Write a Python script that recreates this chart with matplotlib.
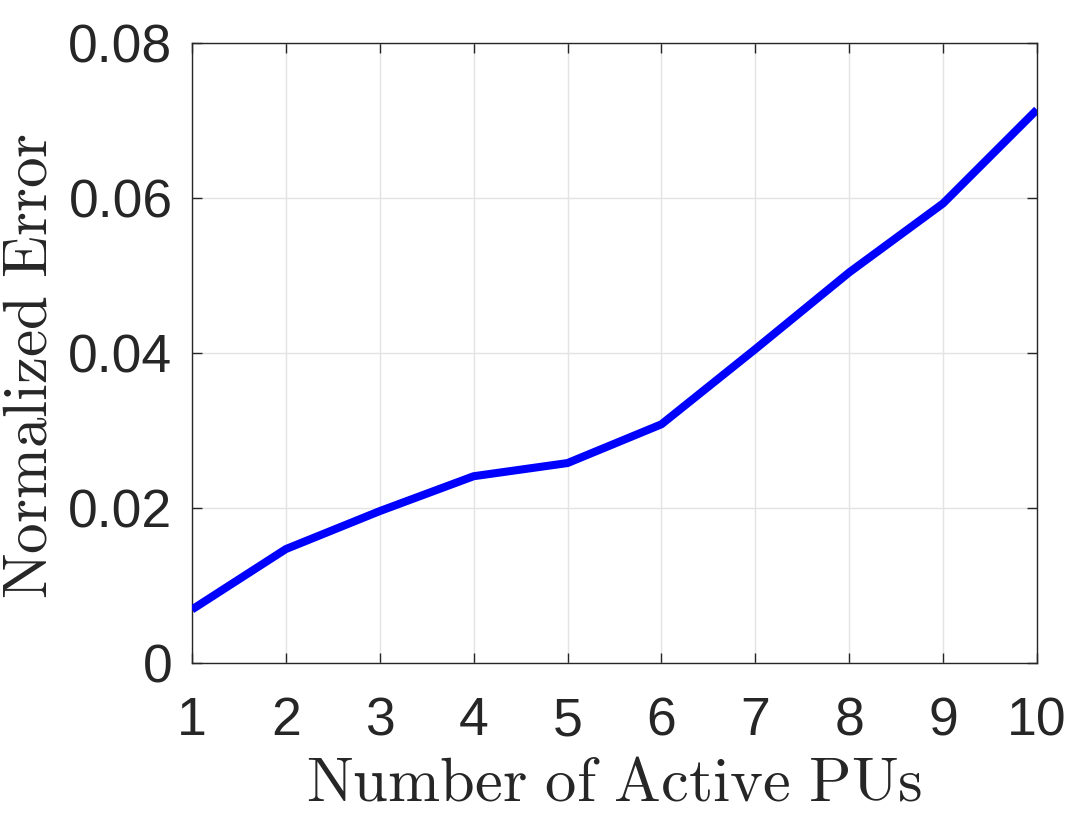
import matplotlib
matplotlib.use("Agg")
import matplotlib.pyplot as plt

NUM_PUS = [1, 2, 3, 4, 5, 6, 7, 8, 9, 10]
NORM_ERROR = [0.0069, 0.0147, 0.0196, 0.0241, 0.0258, 0.0308, 0.0405, 0.0504, 0.0593, 0.0714]
Y_TICKS = [0, 0.02, 0.04, 0.06, 0.08]
Y_TICK_LABELS = ["0", "0.02", "0.04", "0.06", "0.08"]

plt.rcParams["mathtext.fontset"] = "cm"

fig = plt.figure(figsize=(10.92, 8.13), dpi=100)
ax = fig.add_axes([0.1758, 0.1845, 0.7738, 0.7626])

ax.plot(NUM_PUS, NORM_ERROR, color="#0000ff", linewidth=5.8, solid_capstyle="butt", zorder=3)

ax.set_xlim(1, 10)
ax.set_ylim(0, 0.08)
ax.set_xticks(NUM_PUS)
ax.set_yticks(Y_TICKS)
ax.set_yticklabels(Y_TICK_LABELS)

ax.grid(True, color="#e3e3e3", linewidth=1.0)
ax.set_axisbelow(True)

for s in ax.spines.values():
    s.set_color("#262626")
    s.set_linewidth(1.0)

ax.tick_params(direction="in", length=7, width=1.0, color="#262626",
               top=True, right=True, labelsize=38.5, labelcolor="#262626")
ax.tick_params(axis="x", pad=24)
ax.tick_params(axis="y", pad=14)
for lab in ax.get_xticklabels() + ax.get_yticklabels():
    lab.set_family("Liberation Sans")

ax.set_xlabel(r"$\mathrm{Number\ of\ Active\ PUs}$", fontsize=45, color="#262626", labelpad=5)
ax.set_ylabel(r"$\mathrm{Normalized\ Error}$", fontsize=44, color="#262626", labelpad=6)
ax.yaxis.label.set_y(0.479)

fig.savefig("out.png", dpi=100)
